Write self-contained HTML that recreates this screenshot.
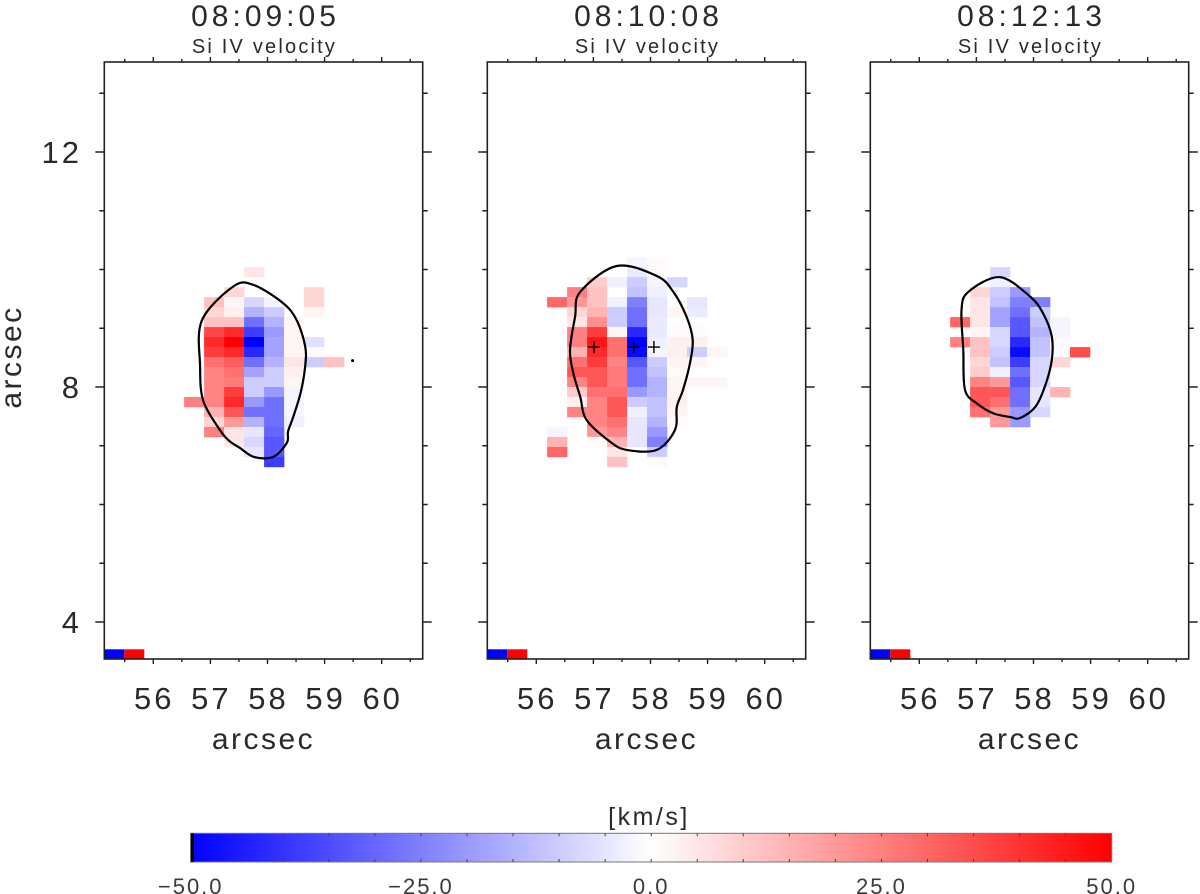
<!DOCTYPE html>
<html><head><meta charset="utf-8"><style>
html,body{margin:0;padding:0;background:#fff;}
svg{display:block;font-family:"Liberation Sans",sans-serif;}
</style></head><body>
<svg id="fig" width="1200" height="894" viewBox="0 0 1200 894" xmlns="http://www.w3.org/2000/svg"></svg>
<script>
// ---- data ----
const panelTitles = ["08:09:05","08:10:08","08:12:13"];
const panelSubtitle = "Si IV velocity";
const xTickLabels = [56,57,58,59,60];
const yTickLabels = [4,8,12];
const cbTickLabels = [-50,-25,0,25,50];
// velocity grids (km/s), rows top->bottom
const grid1 = [
 [0,0,0,5,0,0,0,0],
 [0,0,0,0,0,0,0,0],
 [0,0,8,0,0,0,8,0],
 [0,12,2,-8,-2,0,8,0],
 [0,8,3,-15,-10,0,2,0],
 [0,12,12,-28,-15,2,0,0],
 [0,36,42,-38,-20,2,0,0],
 [0,42,50,-50,-18,2,-6,0],
 [0,38,42,-42,-18,2,1,0],
 [0,28,32,-28,-15,5,-10,12],
 [0,24,28,-18,-10,3,0,0],
 [0,24,26,-10,-10,2,0,0],
 [0,24,38,-10,-20,-2,0,0],
 [25,24,42,-20,-28,-2,0,0],
 [0,15,33,-28,-28,-2,0,0],
 [0,8,20,-15,-28,-3,0,0],
 [0,25,5,-5,-30,0,0,0],
 [0,0,5,-8,-33,0,0,0],
 [0,0,0,-5,-33,0,0,0],
 [0,0,0,0,-38,0,0,0]
];
const grid2 = [
 [0,0,0,0,-2,1,0,0,0],
 [0,0,0,0,-4,1,0,0,0],
 [0,0,10,-3,-10,-2,-8,0,0],
 [0,25,12,0,-12,-3,0,0,0],
 [30,20,12,-3,-25,-5,0,-5,0],
 [0,8,15,-10,-28,-5,2,-4,0],
 [0,5,22,-10,-28,-4,0,0,0],
 [0,25,38,2,-42,-4,1,-1,0],
 [0,25,46,28,-50,-3,3,3,0],
 [0,15,42,28,-48,-2,3,-10,2],
 [0,28,38,24,-33,-10,2,2,0],
 [0,33,33,26,-28,-12,1,0,0],
 [0,24,33,26,-28,-15,2,2,2],
 [0,10,28,28,-20,-15,2,0,0],
 [0,3,24,33,-10,-12,3,0,0],
 [0,24,24,33,-3,-12,2,0,0],
 [0,0,24,28,-5,-15,1,0,0],
 [-2,0,20,24,-5,-20,0,0,0],
 [15,0,1,15,-5,-25,0,0,0],
 [30,0,0,5,0,-10,0,0,0],
 [0,0,0,12,0,1,0,0,0]
];
const grid3 = [
 [0,0,-8,0,0,0,0],
 [0,0,-3,0,0,0,0],
 [0,8,-10,-20,0,0,0],
 [0,5,-12,-25,-25,0,0],
 [0,5,-18,-28,-10,0,0],
 [30,5,-18,-33,-12,-2,0],
 [0,2,-8,-33,-15,-2,0],
 [25,12,-8,-42,-12,1,0],
 [0,12,-10,-48,-12,0,35],
 [0,8,-12,-38,-8,8,0],
 [0,10,-3,-28,-8,0,0],
 [0,24,20,-33,-8,0,0],
 [0,33,33,-28,-5,15,0],
 [0,33,28,-28,-5,0,0],
 [0,28,20,-20,-8,0,0],
 [0,0,20,-20,0,0,0]
];
// contours in arcsec [x,y]
const contour1 = [[56.85,9.13],[57.40,9.71],[57.75,9.74],[58.27,9.43],[58.51,9.14],[58.66,8.69],[58.66,8.35],[58.58,7.90],[58.45,7.49],[58.36,7.24],[58.34,7.05],[58.10,6.81],[57.76,6.81],[57.52,6.96],[57.31,7.10],[57.13,7.32],[56.87,7.78],[56.82,8.35]];
const contour2 = [[56.77,9.62],[57.41,10.06],[58.11,9.89],[58.40,9.62],[58.63,9.20],[58.74,8.80],[58.69,8.40],[58.57,7.95],[58.46,7.66],[58.43,7.27],[58.11,6.93],[57.58,6.93],[57.29,7.07],[56.88,7.44],[56.77,7.83],[56.65,8.23],[56.59,8.63],[56.68,9.20]];
const contour3 = [[56.86,9.62],[57.41,9.87],[57.94,9.54],[58.17,9.25],[58.32,8.86],[58.32,8.46],[58.20,8.01],[58.03,7.66],[57.76,7.47],[57.59,7.49],[57.30,7.55],[57.01,7.72],[56.80,7.95],[56.77,8.63],[56.74,9.31]];
const crossX2 = [57.01,57.71,58.06];
const crossY2 = [8.68,8.68,8.68];
const dotX1 = [59.49];
const dotY1 = [8.45];

// ---- layout ----
const NS="http://www.w3.org/2000/svg";
const svg=document.getElementById('fig');
function mk(tag,attrs,parent){const e=document.createElementNS(NS,tag);for(const k in attrs)e.setAttribute(k,attrs[k]);(parent||svg).appendChild(e);return e;}
const panelLefts=[104.3,487.3,870.3];
const PW=318.4, TOP=62, BOT=659;
const XMIN=55.142, XSCALE=57.1;
const YREF=12, YREFPX=152, YSCALE=58.75;
const grids=[grid1,grid2,grid3];
const gridOrigins=[[56.54,10.04],[56.19,10.21],[56.54,10.04]];
const DX=0.35, DY=0.17;
const contours=[contour1,contour2,contour3];
const TXT='#2a2a2a';
function vColor(v){const t=Math.max(-1,Math.min(1,v/50));const w=Math.round(255*(1-Math.abs(t)));return t>=0?`rgb(255,${w},${w})`:`rgb(${w},${w},255)`;}
function smoothPath(pts){const n=pts.length;let d=`M${pts[0][0]},${pts[0][1]}`;for(let i=0;i<n;i++){const p0=pts[(i-1+n)%n],p1=pts[i],p2=pts[(i+1)%n],p3=pts[(i+2)%n];const c1=[p1[0]+(p2[0]-p0[0])/6,p1[1]+(p2[1]-p0[1])/6],c2=[p2[0]-(p3[0]-p1[0])/6,p2[1]-(p3[1]-p1[1])/6];d+=`C${c1[0].toFixed(1)},${c1[1].toFixed(1)} ${c2[0].toFixed(1)},${c2[1].toFixed(1)} ${p2[0].toFixed(1)},${p2[1].toFixed(1)}`;}return d+'Z';}

for(let p=0;p<3;p++){
  const L=panelLefts[p], R=L+PW;
  const xs=v=>L+(v-XMIN)*XSCALE;
  const ys=v=>YREFPX-(v-YREF)*YSCALE;
  const g=mk('g',{});
  
  
  const hm=mk('g',{},g);
  
  
  const grid=grids[p],[gx,gy]=gridOrigins[p];
  grid.forEach((row,r)=>row.forEach((v,c)=>{
    if(v===0)return;
    const x0=xs(gx+c*DX),x1=xs(gx+(c+1)*DX),y0=ys(gy-r*DY),y1=ys(gy-(r+1)*DY);
    const cell=mk('rect',{x:x0.toFixed(2),y:y0.toFixed(2),width:(x1-x0+0.3).toFixed(2),height:(y1-y0+0.3).toFixed(2),fill:vColor(v)},hm);
    
    
  }));
  const b1=mk('rect',{x:L,y:649.3,width:20,height:9.7,fill:'#0000ff'},g);
  
  
  const b2=mk('rect',{x:L+20,y:649.3,width:20,height:9.7,fill:'#ff0000'},g);
  
  
  const cpts=contours[p].map(q=>[xs(q[0]),ys(q[1])]);
  const cp=mk('path',{d:smoothPath(cpts),fill:'none',stroke:'#000','stroke-width':2.2,'stroke-linejoin':'round'},g);
  
  
  if(p===1){crossX2.forEach((cx,i)=>{const X=xs(cx),Y=ys(crossY2[i]);
    const cr=mk('path',{d:`M${X-6},${Y}H${X+6}M${X},${Y-6}V${Y+6}`,stroke:'#000','stroke-width':1.4},g);
    
    });}
  if(p===0){dotX1.forEach((dx,i)=>{const d=mk('circle',{cx:xs(dx),cy:ys(dotY1[i]),r:1.5,fill:'#000'},g);
    
    });}
  const fr=mk('rect',{x:L,y:TOP,width:PW,height:BOT-TOP,fill:'none',stroke:'#222','stroke-width':1.6},g);
  
  
  let tk='';
  for(let v=55.5;v<=60.5;v+=0.5){const X=xs(v),len=(Math.abs(v-Math.round(v))<0.01)?5:3;tk+=`M${X},${BOT}V${BOT+len}M${X},${TOP}V${TOP-len}`;}
  for(let v=4;v<=13;v+=1){const Y=ys(v),len=(v%4===0)?9:5;tk+=`M${L},${Y}H${L-len}M${R},${Y}H${R+len}`;}
  const tp=mk('path',{d:tk,stroke:'#222','stroke-width':1.4},g);
  
  
  xTickLabels.forEach(v=>{const t=mk('text',{x:xs(v)+1,y:709,'font-size':31,'letter-spacing':3,'text-anchor':'middle',fill:TXT},g);t.textContent=v;
    
    });
  const xt=mk('text',{x:L+PW/2,y:749,'font-size':30,'letter-spacing':2.5,'text-anchor':'middle',fill:TXT},g);xt.textContent='arcsec';
  
  
  const tt=mk('text',{x:L+PW/2+2,y:26,'font-size':30,'letter-spacing':4,'text-anchor':'middle',fill:TXT},g);tt.textContent=panelTitles[p];
  
  
  const st=mk('text',{x:L+PW/2+1,y:53,'font-size':20,'letter-spacing':2.2,'text-anchor':'middle',fill:TXT},g);st.textContent=panelSubtitle;
  
  
  if(p===0){
    yTickLabels.forEach(v=>{const t=mk('text',{x:82,y:ys(v)+11,'font-size':31,'letter-spacing':3,'text-anchor':'end',fill:TXT},g);t.textContent=v;
      
      });
    const yt=mk('text',{x:0,y:0,'font-size':30,'letter-spacing':2.5,'text-anchor':'middle',fill:TXT,transform:'translate(21,357) rotate(-90)'},g);yt.textContent='arcsec';
    
    
  }
}
// colorbar
const CB0=190.7, CB1=1111.7, CBT=833.3, CBB=862;
const cbx=v=>CB0+(v+50)/100*(CB1-CB0);
const defs=mk('defs',{});
const lg=mk('linearGradient',{id:'cbg',x1:0,x2:1,y1:0,y2:0},defs);
mk('stop',{offset:'0','stop-color':'#0000ff'},lg);
mk('stop',{offset:'0.5','stop-color':'#ffffff'},lg);
mk('stop',{offset:'1','stop-color':'#ff0000'},lg);
const cb=mk('g',{});


mk('rect',{x:CB0,y:CBT,width:CB1-CB0,height:CBB-CBT,fill:'url(#cbg)',stroke:'#777','stroke-width':1},cb);
mk('rect',{x:CB0,y:CBT,width:3.3,height:CBB-CBT,fill:'#000'},cb);
let ct='';for(let v=-45;v<50;v+=5){const X=cbx(v);ct+=`M${X},${CBT}v3M${X},${CBB}v-3`;}
mk('path',{d:ct,stroke:'#444','stroke-width':1},cb);
cbTickLabels.forEach(v=>{const t=mk('text',{x:cbx(v),y:894,'font-size':22,'letter-spacing':2,'text-anchor':'middle',fill:'#3a3a3a'},cb);t.textContent=(v<0?'\u2212':'')+Math.abs(v).toFixed(1);
  
  });
const cu=mk('text',{x:649,y:825,'font-size':25,'letter-spacing':2.5,'text-anchor':'middle',fill:TXT},cb);cu.textContent='[km/s]';


</script>
</body></html>
